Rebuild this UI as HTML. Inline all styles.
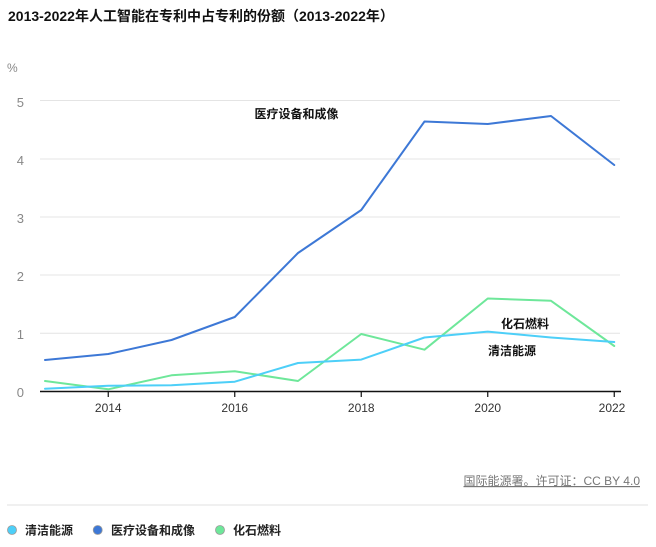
<!DOCTYPE html>
<html><head><meta charset="utf-8">
<style>
html,body{margin:0;padding:0;background:#fff;}
body{width:656px;height:547px;overflow:hidden;position:relative;font-family:"Liberation Sans","Noto Sans CJK SC",sans-serif;}
svg{position:absolute;left:0;top:0;}
</style></head>
<body>
<svg width="656" height="547" viewBox="0 0 656 547" xmlns="http://www.w3.org/2000/svg" font-family="Liberation Sans, Noto Sans CJK SC, sans-serif">
<text x="8" y="21" font-size="14" font-weight="bold" fill="#111">2013-2022年人工智能在专利中占专利的份额（2013-2022年）</text>
<text x="7" y="72" font-size="12" fill="#888">%</text>
<g stroke="#e4e4e4" stroke-width="1">
<line x1="40" y1="100.5" x2="620" y2="100.5"/>
<line x1="40" y1="159" x2="620" y2="159"/>
<line x1="40" y1="217" x2="620" y2="217"/>
<line x1="40" y1="275" x2="620" y2="275"/>
<line x1="40" y1="333.3" x2="620" y2="333.3"/>
</g>
<g font-size="13" fill="#888" text-anchor="end">
<text x="24" y="107">5</text>
<text x="24" y="165">4</text>
<text x="24" y="223">3</text>
<text x="24" y="281">2</text>
<text x="24" y="339">1</text>
<text x="24" y="397">0</text>
</g>
<line x1="40" y1="391.5" x2="621" y2="391.5" stroke="#111" stroke-width="1.5"/>
<g stroke="#111" stroke-width="1.2">
<line x1="108.25" y1="391" x2="108.25" y2="397"/>
<line x1="234.75" y1="391" x2="234.75" y2="397"/>
<line x1="361.25" y1="391" x2="361.25" y2="397"/>
<line x1="487.75" y1="391" x2="487.75" y2="397"/>
<line x1="614.25" y1="391" x2="614.25" y2="397"/>
</g>
<g font-size="12" fill="#333" text-anchor="middle">
<text x="108.25" y="412">2014</text>
<text x="234.75" y="412">2016</text>
<text x="361.25" y="412">2018</text>
<text x="487.75" y="412">2020</text>
<text x="612" y="412">2022</text>
</g>
<g fill="none" stroke-width="2" stroke-linejoin="round" stroke-linecap="round">
<polyline stroke="#6ee79a" points="45,381 108.25,389.3 171.5,375.3 234.75,371.2 298,381 361.25,334 424.5,349.7 487.75,298.5 551,300.8 614.25,346"/>
<polyline stroke="#4dcff8" points="45,388.7 108.25,385.8 171.5,385.2 234.75,381.7 298,363 361.25,359.6 424.5,337.5 487.75,331.6 551,337.5 614.25,342"/>
<polyline stroke="#3d78d6" points="45,360 108.25,354 171.5,340 234.75,317 298,253 361.25,210 424.5,121.5 487.75,124 551,116 614.25,165"/>
</g>
<g font-size="12" font-weight="bold" fill="#111" text-anchor="middle">
<text x="296.5" y="118">医疗设备和成像</text>
<text x="525" y="328">化石燃料</text>
<text x="512" y="355">清洁能源</text>
</g>
<text x="640" y="485" font-size="12" fill="#777" text-anchor="end" text-decoration="underline">国际能源署。许可证：CC BY 4.0</text>
<line x1="7" y1="505" x2="648" y2="505" stroke="#e2e2e2" stroke-width="1"/>
<g stroke="#9a9a9a" stroke-width="0.8">
<circle cx="12" cy="530" r="4.5" fill="#4dcff8"/>
<circle cx="97.7" cy="530" r="4.5" fill="#3d78d6"/>
<circle cx="220" cy="530" r="4.5" fill="#6ee79a"/>
</g>
<g font-size="12" font-weight="bold" fill="#222">
<text x="25" y="534.5">清洁能源</text>
<text x="111" y="534.5">医疗设备和成像</text>
<text x="233" y="534.5">化石燃料</text>
</g>
</svg>
</body></html>
